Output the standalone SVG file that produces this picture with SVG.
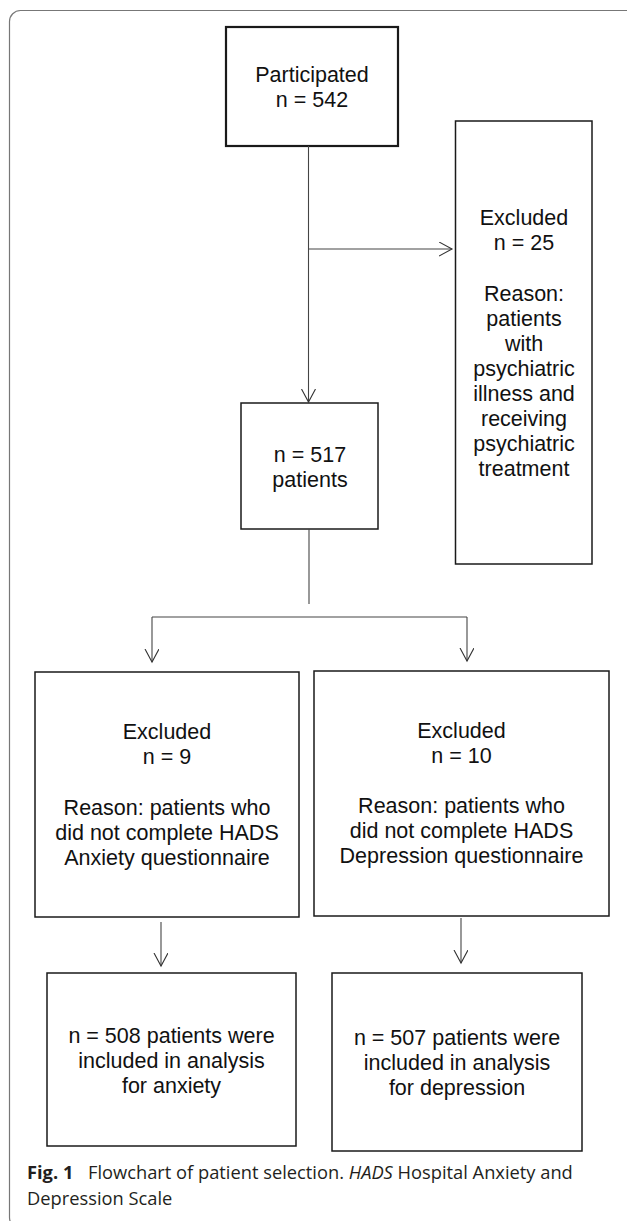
<svg xmlns="http://www.w3.org/2000/svg" width="627" height="1221" viewBox="0 0 627 1221">
<style>
.frame{fill:none;stroke:#777;stroke-width:1.2}
.box{fill:#fff;stroke:#1a1a1a;stroke-width:1.5}
.thick{stroke-width:2.2}
.t{font-family:"Liberation Sans",Arial,sans-serif;font-size:21.5px;fill:#111;text-anchor:middle}
.c{fill:none;stroke:#444;stroke-width:1.1}
.cap{font-family:"Open Sans","Noto Sans",sans-serif;font-size:18.3px;fill:#231f20}
</style>
<defs>
<marker id="ah" markerWidth="16" markerHeight="16" refX="13" refY="7" orient="auto" markerUnits="userSpaceOnUse">
<path d="M0,0 L13,7 L0,14" fill="none" stroke="#333" stroke-width="1.1"/>
</marker>
</defs>
<rect class="frame" x="9.5" y="10.5" width="650" height="1218" rx="11"/>
<g id="participated">
<rect class="box thick" x="226" y="27" width="172" height="119"/>
<text class="t" x="312" y="82">Participated</text>
<text class="t" x="312" y="107">n = 542</text>
</g>
<g id="excluded25">
<rect class="box" x="455.5" y="121" width="136.5" height="443"/>
<text class="t" x="524" y="225">Excluded</text>
<text class="t" x="524" y="250">n = 25</text>
<text class="t" x="524" y="301">Reason:</text>
<text class="t" x="524" y="326">patients</text>
<text class="t" x="524" y="351">with</text>
<text class="t" x="524" y="376">psychiatric</text>
<text class="t" x="524" y="401">illness and</text>
<text class="t" x="524" y="426">receiving</text>
<text class="t" x="524" y="451">psychiatric</text>
<text class="t" x="524" y="476">treatment</text>
</g>
<g id="n517">
<rect class="box" x="241" y="403" width="137" height="126"/>
<text class="t" x="310" y="462">n = 517</text>
<text class="t" x="310" y="487">patients</text>
</g>
<g id="excluded9">
<rect class="box" x="35" y="672" width="264" height="245"/>
<text class="t" x="167" y="739">Excluded</text>
<text class="t" x="167" y="764">n = 9</text>
<text class="t" x="167" y="815">Reason: patients who</text>
<text class="t" x="167" y="840">did not complete HADS</text>
<text class="t" x="167" y="865">Anxiety questionnaire</text>
</g>
<g id="excluded10">
<rect class="box" x="314" y="671" width="295" height="245"/>
<text class="t" x="461.5" y="738">Excluded</text>
<text class="t" x="461.5" y="763">n = 10</text>
<text class="t" x="461.5" y="813">Reason: patients who</text>
<text class="t" x="461.5" y="838">did not complete HADS</text>
<text class="t" x="461.5" y="863">Depression questionnaire</text>
</g>
<g id="anxiety508">
<rect class="box" x="47" y="973" width="249" height="173"/>
<text class="t" x="171.5" y="1043">n = 508 patients were</text>
<text class="t" x="171.5" y="1068">included in analysis</text>
<text class="t" x="171.5" y="1093">for anxiety</text>
</g>
<g id="depression507">
<rect class="box" x="332" y="973" width="250" height="178"/>
<text class="t" x="457" y="1045">n = 507 patients were</text>
<text class="t" x="457" y="1070">included in analysis</text>
<text class="t" x="457" y="1095">for depression</text>
</g>
<g id="connectors">
<line class="c" x1="308.5" y1="146" x2="308.5" y2="402" marker-end="url(#ah)"/>
<line class="c" x1="309" y1="249" x2="452" y2="249" marker-end="url(#ah)"/>
<line class="c" x1="309" y1="529" x2="309" y2="604"/>
<line class="c" x1="152" y1="617" x2="467" y2="617"/>
<line class="c" x1="152" y1="617" x2="152" y2="662" marker-end="url(#ah)"/>
<line class="c" x1="467" y1="617" x2="467" y2="661" marker-end="url(#ah)"/>
<line class="c" x1="161" y1="922" x2="161" y2="966" marker-end="url(#ah)"/>
<line class="c" x1="461" y1="918" x2="461" y2="963" marker-end="url(#ah)"/>
</g>
<text class="cap" x="27" y="1179"><tspan font-weight="bold">Fig. 1</tspan><tspan x="88">Flowchart of patient selection. </tspan><tspan font-style="italic">HADS</tspan> Hospital Anxiety and</text>
<text class="cap" x="27" y="1205">Depression Scale</text>
</svg>
